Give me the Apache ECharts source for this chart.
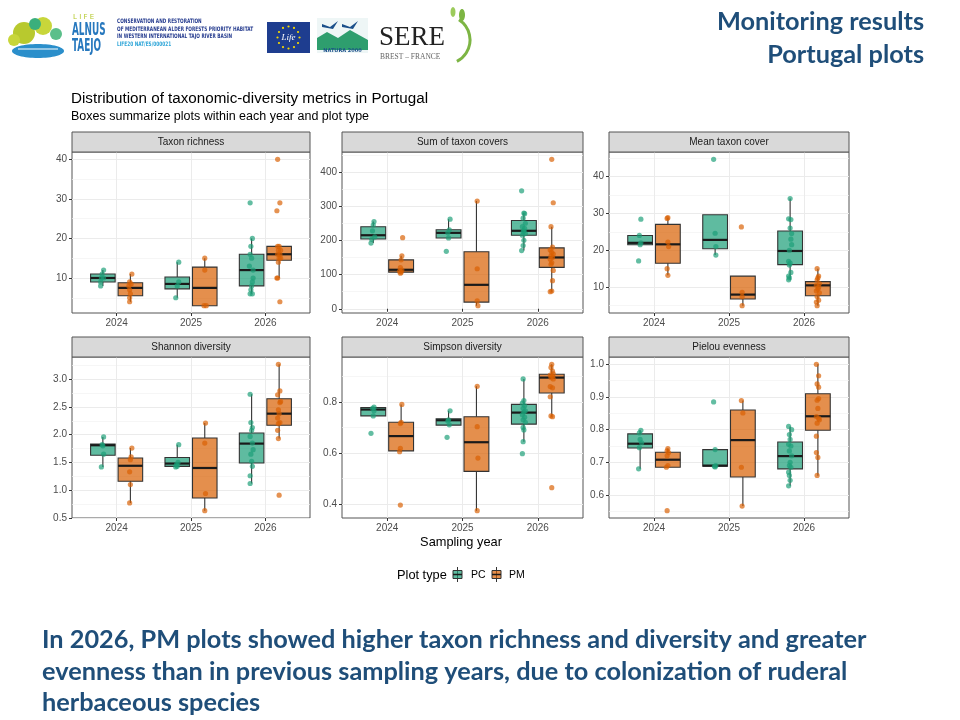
<!DOCTYPE html>
<html><head><meta charset="utf-8">
<script src="https://cdn.jsdelivr.net/npm/echarts@6/dist/echarts.min.js"></script>
<style>html,body{margin:0;padding:0;background:#fff}#c{width:960px;height:720px}</style>
</head><body><div id="c"></div>
<script>
// ---------- data ----------
const years = ['2024', '2025', '2026'];
const groups = ['PC', 'PM'];
const metricNames = ['Taxon richness', 'Sum of taxon covers', 'Mean taxon cover', 'Shannon diversity', 'Simpson diversity', 'Pielou evenness'];

// box stats per year: [lower whisker, Q1, median, Q3, upper whisker]
const trPCbox = [[8,9,10,11,12],[5,7.25,8.5,10.25,14],[6,8,12,16,20]];
const trPMbox = [[4,5.5,7.5,8.8,11],[3,3,7.5,12.75,15],[10,14.5,16,18,18]];
const scPCbox = [[192,204,215,240,255],[207,207,222,231,262],[170,215,228,258,280]];
const scPMbox = [[104,107,114,143,155],[9,19.5,70,166.5,315],[50,121,150,178,240]];
const mcPCbox = [[21.5,21.5,22,24,24],[18.7,20.4,22.8,29.6,29.6],[12,16.1,19.8,25.2,34]];
const mcPMbox = [[13.2,16.5,21.6,27,28.8],[5,6.8,8.0,13.0,13.0],[5,7.7,10.5,11.5,15]];
const shPCbox = [[1.42,1.63,1.81,1.83,1.96],[1.42,1.43,1.48,1.59,1.82],[1.12,1.49,1.84,2.03,2.73]];
const shPMbox = [[0.77,1.16,1.44,1.58,1.76],[0.63,0.86,1.40,1.94,2.21],[1.93,2.17,2.38,2.65,3.27]];
const siPCbox = [[0.745,0.745,0.77,0.778,0.78],[0.709,0.709,0.728,0.734,0.765],[0.644,0.713,0.758,0.79,0.89]];
const siPMbox = [[0.605,0.608,0.666,0.72,0.79],[0.374,0.528,0.642,0.742,0.861],[0.742,0.835,0.895,0.908,0.947]];
const pePCbox = [[0.68,0.744,0.757,0.787,0.798],[0.686,0.688,0.69,0.739,0.739],[0.628,0.68,0.719,0.762,0.81]];
const pePMbox = [[0.685,0.685,0.708,0.731,0.742],[0.566,0.655,0.768,0.86,0.889],[0.659,0.798,0.841,0.91,1.0]];

// plot points per year: [value, horizontal jitter]
const trPCpts = [
  [[12,0.01],[11,-0.01],[10,0.01],[10,-0.02],[9,-0.03],[8,-0.03]],
  [[14,0.02],[9,0.02],[8,0.00],[5,-0.02]],
  [[29,-0.02],[20,0.01],[18,-0.01],[16,-0.02],[15,0.00],[13,-0.03],[12,0.02],[10,0.02],[9,0.01],[8,0.00],[7,-0.01],[6,-0.02],[6,0.01]]];
const trPMpts = [
  [[11,0.02],[9,-0.01],[8.5,0.01],[8,-0.02],[7,-0.01],[6,0.00],[5,-0.01],[4,-0.01]],
  [[15,0.00],[12,0.00],[3,-0.01],[3,0.02]],
  [[40,-0.02],[29,0.01],[27,-0.03],[18,0.00],[18,-0.02],[17,0.02],[17,-0.01],[16,0.01],[16,-0.02],[15,0.00],[15,0.02],[14,-0.01],[10,-0.03],[10,-0.02],[4,0.01]]];
const scPCpts = [
  [[255,0.01],[245,0.00],[228,-0.01],[210,0.02],[203,-0.02],[192,-0.03]],
  [[262,0.02],[231,0.01],[222,-0.01],[207,0.00],[168,-0.03]],
  [[345,-0.03],[280,0.00],[278,0.01],[265,-0.01],[250,0.02],[240,-0.02],[235,0.01],[228,0.00],[225,-0.01],[220,0.02],[215,-0.02],[200,0.00],[185,-0.01],[170,-0.03]]];
const scPMpts = [
  [[208,0.02],[155,0.01],[143,0.00],[120,-0.01],[113,0.01],[110,-0.02],[107,0.00],[104,-0.01]],
  [[315,0.01],[117,0.01],[23,0.01],[9,0.02]],
  [[437,0.00],[310,0.02],[240,-0.01],[180,0.01],[172,-0.02],[165,0.00],[160,0.02],[155,-0.01],[150,0.01],[145,-0.02],[135,0.00],[130,-0.01],[112,0.02],[82,0.01],[52,0.00],[50,-0.02]]];
const mcPCpts = [
  [[28.4,0.01],[24,-0.01],[22,0.01],[21.5,0.00],[17.1,-0.02]],
  [[44.6,-0.02],[24.6,0.00],[21,0.01],[18.7,0.01]],
  [[34,0.00],[28.5,-0.02],[28.3,0.01],[26,0.00],[24.5,0.02],[23,0.01],[21.5,0.02],[20,-0.01],[17,-0.02],[16.5,0.00],[16,-0.01],[14,0.01],[13,-0.02],[12.5,-0.01],[12,-0.02]]];
const mcPMpts = [
  [[28.8,0.00],[28.6,-0.01],[22.2,0.00],[21,0.01],[15,-0.01],[13.2,0.00]],
  [[26.3,-0.02],[8.6,-0.01],[7.4,-0.01],[5,-0.01]],
  [[15,-0.01],[13,0.01],[12.5,0.00],[12,-0.01],[11,0.02],[10.5,-0.02],[10,0.01],[9.5,0.00],[9,-0.02],[8.5,0.02],[7.5,-0.01],[6.5,0.01],[6,-0.02],[5,-0.01]]];
const shPCpts = [
  [[1.96,0.01],[1.82,-0.01],[1.8,0.00],[1.65,0.01],[1.42,-0.02]],
  [[1.82,0.02],[1.5,0.01],[1.46,-0.01],[1.43,0.00],[1.42,-0.02]],
  [[2.73,-0.02],[2.22,-0.01],[2.13,0.01],[2.08,0.00],[1.97,-0.02],[1.85,0.01],[1.73,0.02],[1.65,-0.01],[1.52,0.00],[1.43,0.01],[1.26,-0.02],[1.12,-0.02]]];
const shPMpts = [
  [[1.76,0.02],[1.6,0.01],[1.55,0.00],[1.33,-0.01],[1.1,0.00],[0.77,-0.01]],
  [[2.21,0.01],[1.85,0.00],[0.94,0.01],[0.63,0.00]],
  [[3.27,-0.01],[2.79,0.01],[2.72,-0.02],[2.6,0.02],[2.58,0.01],[2.45,-0.01],[2.38,0.00],[2.3,-0.02],[2.22,0.01],[2.2,-0.01],[2.08,-0.02],[1.93,-0.01],[0.91,0.00]]];
const siPCpts = [
  [[0.78,0.01],[0.775,-0.01],[0.765,0.01],[0.745,0.00],[0.677,-0.03]],
  [[0.765,0.02],[0.73,0.00],[0.725,-0.01],[0.71,0.01],[0.661,-0.02]],
  [[0.89,-0.01],[0.805,0.00],[0.795,-0.02],[0.785,0.01],[0.775,-0.01],[0.765,0.02],[0.76,0.00],[0.75,-0.02],[0.74,0.01],[0.73,-0.01],[0.72,0.02],[0.70,-0.01],[0.69,0.00],[0.644,-0.01],[0.597,-0.02]]];
const siPMpts = [
  [[0.79,0.01],[0.72,0.00],[0.715,-0.01],[0.618,-0.01],[0.605,-0.02],[0.396,-0.01]],
  [[0.861,0.01],[0.703,0.01],[0.58,0.02],[0.374,0.01]],
  [[0.947,0.00],[0.935,-0.01],[0.92,0.01],[0.91,0.02],[0.905,-0.02],[0.9,0.01],[0.895,-0.01],[0.89,0.02],[0.86,-0.02],[0.855,0.01],[0.82,-0.02],[0.745,-0.01],[0.742,0.01],[0.464,0.00]]];
const pePCpts = [
  [[0.798,0.01],[0.79,-0.01],[0.77,0.00],[0.76,0.02],[0.745,-0.01],[0.68,-0.02]],
  [[0.885,-0.02],[0.739,0.00],[0.69,0.01],[0.688,-0.01],[0.686,0.00]],
  [[0.81,-0.02],[0.80,0.02],[0.785,-0.01],[0.77,0.00],[0.755,-0.02],[0.75,0.01],[0.735,-0.01],[0.72,0.02],[0.70,0.00],[0.69,-0.01],[0.685,0.01],[0.67,-0.02],[0.66,-0.01],[0.645,0.00],[0.628,-0.02]]];
const pePMpts = [
  [[0.742,0.00],[0.735,-0.01],[0.73,0.01],[0.72,-0.01],[0.69,0.00],[0.685,-0.02],[0.552,-0.01]],
  [[0.889,-0.02],[0.851,0.00],[0.685,-0.02],[0.566,-0.01]],
  [[1.0,-0.02],[0.965,0.01],[0.94,-0.01],[0.93,0.01],[0.895,0.01],[0.89,-0.01],[0.865,0.00],[0.84,-0.02],[0.835,0.01],[0.83,0.02],[0.82,-0.01],[0.78,-0.02],[0.73,-0.02],[0.715,0.00],[0.66,-0.01]]];

// tick labels (major) and minor grid values
const trTicks = [10,20,30,40], trMinor = [5,15,25,35];
const scTicks = [0,100,200,300,400], scMinor = [50,150,250,350,450];
const mcTicks = [10,20,30,40], mcMinor = [5,15,25,35,45];
const shTicks = [0.5,1.0,1.5,2.0,2.5,3.0], shMinor = [0.75,1.25,1.75,2.25,2.75,3.25];
const siTicks = [0.4,0.6,0.8], siMinor = [0.5,0.7,0.9];
const peTicks = [0.6,0.7,0.8,0.9,1.0], peMinor = [0.55,0.65,0.75,0.85,0.95];

const summaryLines = [
  'In 2026, PM plots showed higher taxon richness and diversity and greater',
  'evenness than in previous sampling years, due to colonization of ruderal',
  'herbaceous species'
];

// ---------- chart ----------
const panels = [
  {box:[trPCbox,trPMbox], pts:[trPCpts,trPMpts], ticks:trTicks, minor:trMinor, dec:0},
  {box:[scPCbox,scPMbox], pts:[scPCpts,scPMpts], ticks:scTicks, minor:scMinor, dec:0},
  {box:[mcPCbox,mcPMbox], pts:[mcPCpts,mcPMpts], ticks:mcTicks, minor:mcMinor, dec:0},
  {box:[shPCbox,shPMbox], pts:[shPCpts,shPMpts], ticks:shTicks, minor:shMinor, dec:1},
  {box:[siPCbox,siPMbox], pts:[siPCpts,siPMpts], ticks:siTicks, minor:siMinor, dec:1},
  {box:[pePCbox,pePMbox], pts:[pePCpts,pePMpts], ticks:peTicks, minor:peMinor, dec:1}
];

const FONT = 'Liberation Sans, Arial, sans-serif';
const gridLefts = [72, 342, 609], gridWidths = [238, 241, 240], gridTops = [152, 357];
const gridH = 161, stripH = 20;
const dodge = [-0.185, 0.185], boxW = 0.33;
const fillCol = ['rgba(27,158,119,0.7)', 'rgba(217,95,2,0.7)'];
const ptCol = ['rgba(27,158,119,0.85)', 'rgba(217,95,2,0.85)'];
const panelBorder = '#555';

const grid = [], xAxis = [], yAxis = [], series = [], graphic = [];

panels.forEach((p, i) => {
  const col = i % 3, row = Math.floor(i / 3);
  const left = gridLefts[col], top = gridTops[row], w = gridWidths[col];
  grid.push({left, top, width: w, height: gridH, show: true, backgroundColor: '#fff',
    borderColor: panelBorder, borderWidth: 1, containLabel: false, outerBoundsMode: 'none'});

  const all = [];
  p.box.forEach(b => b.forEach(r => all.push(r[0], r[4])));
  p.pts.forEach(g => g.forEach(yr => yr.forEach(pt => all.push(pt[0]))));
  const lo = Math.min(...all), hi = Math.max(...all), pad = (hi - lo) * 0.05;
  const ymin = lo - pad, ymax = hi + pad;

  xAxis.push({gridIndex: i, type: 'value', min: 0.4, max: 3.6, position: 'bottom',
    axisLine: {show: false},
    axisTick: {show: true, customValues: [1, 2, 3], length: 3, lineStyle: {color: '#333', width: 1}},
    axisLabel: {customValues: [1, 2, 3], formatter: v => years[Math.round(v) - 1],
      color: '#4D4D4D', fontSize: 10, fontFamily: FONT, margin: 5},
    splitLine: {show: true, lineStyle: {color: '#EBEBEB', width: 1}}
  });
  // minor grid axis
  yAxis.push({gridIndex: i, type: 'value', min: ymin, max: ymax, position: 'left',
    axisLine: {show: false}, axisLabel: {show: false},
    axisTick: {show: false, customValues: p.minor},
    splitLine: {show: true, lineStyle: {color: '#F2F2F2', width: 0.7}}
  });
  // major ticks / labels / grid
  yAxis.push({gridIndex: i, type: 'value', min: ymin, max: ymax, position: 'left', offset: 0,
    axisLine: {show: false},
    axisTick: {show: true, customValues: p.ticks, length: 3, lineStyle: {color: '#333', width: 1}},
    axisLabel: {customValues: p.ticks, formatter: v => v.toFixed(p.dec),
      color: '#4D4D4D', fontSize: 10, fontFamily: FONT, margin: 5},
    splitLine: {show: true, lineStyle: {color: '#EBEBEB', width: 1}}
  });

  // boxes
  const boxData = [];
  p.box.forEach((b, g) => b.forEach((r, y) => {
    boxData.push([y + 1 + dodge[g], r[0], r[1], r[2], r[3], r[4], g]);
  }));
  series.push({
    type: 'custom', xAxisIndex: i, yAxisIndex: 2 * i + 1, z: 2,
    encode: {x: 0, y: [1, 2, 3, 4, 5]},
    data: boxData, silent: true,
    renderItem: (params, api) => {
      const x = api.value(0), g = api.value(6);
      const pl = api.coord([x, api.value(1)]);
      const p1 = api.coord([x, api.value(2)]);
      const pm = api.coord([x, api.value(3)]);
      const p3 = api.coord([x, api.value(4)]);
      const ph = api.coord([x, api.value(5)]);
      const hw = api.size([boxW, 0])[0] / 2;
      return {type: 'group', children: [
        {type: 'line', shape: {x1: pl[0], y1: pl[1], x2: p1[0], y2: p1[1]}, style: {stroke: '#333', lineWidth: 1.1}},
        {type: 'line', shape: {x1: p3[0], y1: p3[1], x2: ph[0], y2: ph[1]}, style: {stroke: '#333', lineWidth: 1.1}},
        {type: 'rect', shape: {x: p3[0] - hw, y: p3[1], width: 2 * hw, height: p1[1] - p3[1]},
          style: {fill: fillCol[g], stroke: '#333', lineWidth: 1.1}},
        {type: 'line', shape: {x1: pm[0] - hw, y1: pm[1], x2: pm[0] + hw, y2: pm[1]}, style: {stroke: '#1A1A1A', lineWidth: 2.2}}
      ]};
    }
  });
  // jittered points
  p.pts.forEach((gp, g) => {
    const d = [];
    gp.forEach((yr, y) => yr.forEach(pt => d.push([y + 1 + dodge[g] + pt[1], pt[0]])));
    series.push({type: 'scatter', name: groups[g], xAxisIndex: i, yAxisIndex: 2 * i + 1, z: 3,
      data: d, symbolSize: 5.2, itemStyle: {color: ptCol[g]}, silent: true});
  });

  // strip
  graphic.push({type: 'rect', shape: {x: left, y: top - stripH, width: w, height: stripH},
    style: {fill: '#D9D9D9', stroke: panelBorder, lineWidth: 1}, z: 10});
  graphic.push({type: 'text', x: left + w / 2, y: top - stripH / 2 + 0.5,
    style: {text: metricNames[i], fill: '#1A1A1A', fontSize: 10, fontFamily: FONT, align: 'center', verticalAlign: 'middle'}, z: 11});
});

// titles
graphic.push({type: 'text', x: 71, y: 99, style: {text: 'Distribution of taxonomic-diversity metrics in Portugal', fill: '#000', fontSize: 15.2, fontFamily: FONT, verticalAlign: 'middle'}});
graphic.push({type: 'text', x: 71, y: 117, style: {text: 'Boxes summarize plots within each year and plot type', fill: '#000', fontSize: 12.5, fontFamily: FONT, verticalAlign: 'middle'}});
graphic.push({type: 'text', x: 461, y: 542, style: {text: 'Sampling year', fill: '#000', fontSize: 12.8, fontFamily: FONT, align: 'center', verticalAlign: 'middle'}});

// legend
graphic.push({type: 'text', x: 397, y: 575, style: {text: 'Plot type', fill: '#000', fontSize: 12.8, fontFamily: FONT, verticalAlign: 'middle'}});
[[453, 0, 'PC', 471], [492, 1, 'PM', 509]].forEach(k => {
  const kx = k[0], g = k[1];
  graphic.push({type: 'line', shape: {x1: kx + 4.5, y1: 567, x2: kx + 4.5, y2: 582}, style: {stroke: '#333', lineWidth: 1}});
  graphic.push({type: 'rect', shape: {x: kx, y: 570.5, width: 9, height: 8}, style: {fill: fillCol[g], stroke: '#333', lineWidth: 1}});
  graphic.push({type: 'line', shape: {x1: kx, y1: 574.5, x2: kx + 9, y2: 574.5}, style: {stroke: '#1A1A1A', lineWidth: 1.5}});
  graphic.push({type: 'text', x: k[3], y: 575, style: {text: k[2], fill: '#000', fontSize: 10.5, fontFamily: FONT, verticalAlign: 'middle'}});
});

// slide headings
graphic.push({type: 'text', x: 924, y: 22, style: {text: 'Monitoring results', fill: '#1F4E79', fontSize: 25.3, fontWeight: 'bold', fontFamily: 'Lato, sans-serif', align: 'right', verticalAlign: 'middle'}});
graphic.push({type: 'text', x: 924, y: 55, style: {text: 'Portugal plots', fill: '#1F4E79', fontSize: 25.3, fontWeight: 'bold', fontFamily: 'Lato, sans-serif', align: 'right', verticalAlign: 'middle'}});
summaryLines.forEach((t, j) => {
  graphic.push({type: 'text', x: 42, y: 640 + j * 31.5, style: {text: t, fill: '#1F4E79', fontSize: 25.3, fontWeight: 'bold', fontFamily: 'Lato, sans-serif', verticalAlign: 'middle'}});
});

// header logos (approximations)
[[24, 33, 11, '#B8C92E'], [43, 26, 9, '#C8D63A'], [35, 24, 6, '#3BAF7C'], [56, 34, 6, '#5BBF8A'], [14, 40, 6, '#C8D63A']].forEach(c => {
  graphic.push({type: 'circle', shape: {cx: c[0], cy: c[1], r: c[2]}, style: {fill: c[3]}});
});
graphic.push({type: 'ellipse', shape: {cx: 38, cy: 51, rx: 26, ry: 7}, style: {fill: '#2B8FCB'}});
graphic.push({type: 'line', shape: {x1: 18, y1: 49, x2: 58, y2: 49}, style: {stroke: '#fff', lineWidth: 1.2}});
graphic.push({type: 'text', x: 73, y: 17, style: {text: 'L I F E', fill: '#B5C92E', fontSize: 7, fontFamily: 'DejaVu Sans', verticalAlign: 'middle'}});
graphic.push({type: 'text', x: 72, y: 31, scaleX: 0.58, style: {text: 'ALNUS', fill: '#2778BE', fontSize: 17, fontWeight: 'bold', fontFamily: 'DejaVu Sans Condensed', verticalAlign: 'middle'}});
graphic.push({type: 'text', x: 72, y: 47, scaleX: 0.58, style: {text: 'TAEJO', fill: '#2778BE', fontSize: 17, fontWeight: 'bold', fontFamily: 'DejaVu Sans Condensed', verticalAlign: 'middle'}});
['CONSERVATION AND RESTORATION', 'OF MEDITERRANEAN ALDER FORESTS PRIORITY HABITAT', 'IN WESTERN INTERNATIONAL TAJO RIVER BASIN', 'LIFE20 NAT/ES/000021'].forEach((t, j) => {
  graphic.push({type: 'text', x: 117, y: 21.5 + j * 7.5, scaleX: 0.77, style: {text: t, fill: j === 3 ? '#2DA5D8' : '#263C8F', fontSize: 6.2, fontWeight: 'bold', fontFamily: 'DejaVu Sans Condensed', verticalAlign: 'middle'}});
});
graphic.push({type: 'rect', shape: {x: 267, y: 22, width: 43, height: 31}, style: {fill: '#1E3D8F'}});
for (let s = 0; s < 12; s++) {
  const a = s / 12 * Math.PI * 2;
  graphic.push({type: 'circle', shape: {cx: 288.5 + 11 * Math.cos(a), cy: 37.5 + 11 * Math.sin(a), r: 1.1}, style: {fill: '#F5D800'}});
}
graphic.push({type: 'text', x: 288.5, y: 37.5, style: {text: 'Life', fill: '#fff', fontSize: 9, fontStyle: 'italic', fontFamily: 'Liberation Serif', align: 'center', verticalAlign: 'middle'}});
graphic.push({type: 'rect', shape: {x: 317, y: 18, width: 51, height: 35}, style: {fill: '#EEF6F6'}});
graphic.push({type: 'polygon', shape: {points: [[317, 50], [317, 38], [327, 32], [338, 38], [350, 30], [368, 40], [368, 50]]}, style: {fill: '#2E9E6E'}});
graphic.push({type: 'polygon', shape: {points: [[322, 24], [330, 27], [338, 21], [333, 29], [322, 27]]}, style: {fill: '#1B4F8A'}});
graphic.push({type: 'polygon', shape: {points: [[342, 24], [350, 27], [358, 21], [353, 29], [342, 27]]}, style: {fill: '#1B4F8A'}});
graphic.push({type: 'text', x: 342.5, y: 51, style: {text: 'NATURA 2000', fill: '#1B4F8A', fontSize: 5, fontWeight: 'bold', fontFamily: 'DejaVu Sans', align: 'center', verticalAlign: 'middle'}});
graphic.push({type: 'text', x: 379, y: 38, style: {text: 'SERE', fill: '#222', fontSize: 27, fontFamily: 'Liberation Serif', verticalAlign: 'middle'}});
graphic.push({type: 'text', x: 380, y: 57, style: {text: 'BREST – FRANCE', fill: '#666', fontSize: 7.5, fontFamily: 'Liberation Serif', verticalAlign: 'middle'}});
graphic.push({type: 'arc', shape: {cx: 446, cy: 40, r: 24, startAngle: -1.0, endAngle: 1.1}, style: {stroke: '#7DB544', lineWidth: 3, fill: null}});
graphic.push({type: 'ellipse', shape: {cx: 462, cy: 15, rx: 3, ry: 6}, style: {fill: '#7DB544'}});
graphic.push({type: 'ellipse', shape: {cx: 453, cy: 12, rx: 2.5, ry: 5}, style: {fill: '#9CCB5C'}});

const chart = echarts.init(document.getElementById('c'), null, {renderer: 'canvas'});
chart.setOption({
  backgroundColor: '#fff',
  animation: false,
  textStyle: {fontFamily: FONT},
  grid, xAxis, yAxis, series, graphic
});
</script></body></html>
